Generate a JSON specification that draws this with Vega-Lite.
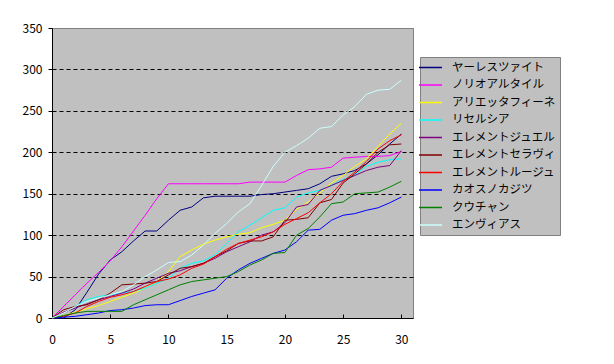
{
"$schema": "https://vega.github.io/schema/vega-lite/v6.json",
"width": 361, "height": 290,
"autosize": {"type": "none"},
"padding": {"left": 52, "top": 28, "right": 201, "bottom": 46},
"background": "white",
"config": {"view": {"fill": "#c0c0c0", "stroke": "#808080", "strokeWidth": 1}, "font": "Noto Sans CJK JP"},
"datasets": {"d": [
{"s":"ヤーレスツァイト","x":0,"y":0},{"s":"ヤーレスツァイト","x":1,"y":0},{"s":"ヤーレスツァイト","x":2,"y":10},{"s":"ヤーレスツァイト","x":3,"y":31},{"s":"ヤーレスツァイト","x":4,"y":53},{"s":"ヤーレスツァイト","x":5,"y":70},{"s":"ヤーレスツァイト","x":6,"y":80},{"s":"ヤーレスツァイト","x":7,"y":93},{"s":"ヤーレスツァイト","x":8,"y":105},{"s":"ヤーレスツァイト","x":9,"y":105},{"s":"ヤーレスツァイト","x":10,"y":118},{"s":"ヤーレスツァイト","x":11,"y":130},{"s":"ヤーレスツァイト","x":12,"y":134},{"s":"ヤーレスツァイト","x":13,"y":145},{"s":"ヤーレスツァイト","x":14,"y":147},{"s":"ヤーレスツァイト","x":15,"y":147},{"s":"ヤーレスツァイト","x":16,"y":147},{"s":"ヤーレスツァイト","x":17,"y":147},{"s":"ヤーレスツァイト","x":18,"y":149},{"s":"ヤーレスツァイト","x":19,"y":150},{"s":"ヤーレスツァイト","x":20,"y":152},{"s":"ヤーレスツァイト","x":21,"y":154},{"s":"ヤーレスツァイト","x":22,"y":156},{"s":"ヤーレスツァイト","x":23,"y":162},{"s":"ヤーレスツァイト","x":24,"y":171},{"s":"ヤーレスツァイト","x":25,"y":174},{"s":"ヤーレスツァイト","x":26,"y":178},{"s":"ヤーレスツァイト","x":27,"y":186},{"s":"ヤーレスツァイト","x":28,"y":197},{"s":"ヤーレスツァイト","x":29,"y":210},{"s":"ヤーレスツァイト","x":30,"y":222},
{"s":"ノリオアルタイル","x":0,"y":0},{"s":"ノリオアルタイル","x":1,"y":14},{"s":"ノリオアルタイル","x":2,"y":28},{"s":"ノリオアルタイル","x":3,"y":42},{"s":"ノリオアルタイル","x":4,"y":55},{"s":"ノリオアルタイル","x":5,"y":69},{"s":"ノリオアルタイル","x":6,"y":86},{"s":"ノリオアルタイル","x":7,"y":105},{"s":"ノリオアルタイル","x":8,"y":124},{"s":"ノリオアルタイル","x":9,"y":144},{"s":"ノリオアルタイル","x":10,"y":162},{"s":"ノリオアルタイル","x":11,"y":162},{"s":"ノリオアルタイル","x":12,"y":162},{"s":"ノリオアルタイル","x":13,"y":162},{"s":"ノリオアルタイル","x":14,"y":162},{"s":"ノリオアルタイル","x":15,"y":162},{"s":"ノリオアルタイル","x":16,"y":162},{"s":"ノリオアルタイル","x":17,"y":164},{"s":"ノリオアルタイル","x":18,"y":164},{"s":"ノリオアルタイル","x":19,"y":164},{"s":"ノリオアルタイル","x":20,"y":164},{"s":"ノリオアルタイル","x":21,"y":172},{"s":"ノリオアルタイル","x":22,"y":179},{"s":"ノリオアルタイル","x":23,"y":180},{"s":"ノリオアルタイル","x":24,"y":182},{"s":"ノリオアルタイル","x":25,"y":193},{"s":"ノリオアルタイル","x":26,"y":194},{"s":"ノリオアルタイル","x":27,"y":195},{"s":"ノリオアルタイル","x":28,"y":195},{"s":"ノリオアルタイル","x":29,"y":196},{"s":"ノリオアルタイル","x":30,"y":201},
{"s":"アリエッタフィーネ","x":0,"y":0},{"s":"アリエッタフィーネ","x":1,"y":3},{"s":"アリエッタフィーネ","x":2,"y":7},{"s":"アリエッタフィーネ","x":3,"y":11},{"s":"アリエッタフィーネ","x":4,"y":15},{"s":"アリエッタフィーネ","x":5,"y":20},{"s":"アリエッタフィーネ","x":6,"y":25},{"s":"アリエッタフィーネ","x":7,"y":30},{"s":"アリエッタフィーネ","x":8,"y":36},{"s":"アリエッタフィーネ","x":9,"y":44},{"s":"アリエッタフィーネ","x":10,"y":56},{"s":"アリエッタフィーネ","x":11,"y":74},{"s":"アリエッタフィーネ","x":12,"y":82},{"s":"アリエッタフィーネ","x":13,"y":89},{"s":"アリエッタフィーネ","x":14,"y":94},{"s":"アリエッタフィーネ","x":15,"y":98},{"s":"アリエッタフィーネ","x":16,"y":101},{"s":"アリエッタフィーネ","x":17,"y":103},{"s":"アリエッタフィーネ","x":18,"y":109},{"s":"アリエッタフィーネ","x":19,"y":113},{"s":"アリエッタフィーネ","x":20,"y":118},{"s":"アリエッタフィーネ","x":21,"y":131},{"s":"アリエッタフィーネ","x":22,"y":140},{"s":"アリエッタフィーネ","x":23,"y":151},{"s":"アリエッタフィーネ","x":24,"y":163},{"s":"アリエッタフィーネ","x":25,"y":172},{"s":"アリエッタフィーネ","x":26,"y":183},{"s":"アリエッタフィーネ","x":27,"y":192},{"s":"アリエッタフィーネ","x":28,"y":207},{"s":"アリエッタフィーネ","x":29,"y":222},{"s":"アリエッタフィーネ","x":30,"y":235},
{"s":"リセルシア","x":0,"y":0},{"s":"リセルシア","x":1,"y":6},{"s":"リセルシア","x":2,"y":14},{"s":"リセルシア","x":3,"y":22},{"s":"リセルシア","x":4,"y":26},{"s":"リセルシア","x":5,"y":28},{"s":"リセルシア","x":6,"y":30},{"s":"リセルシア","x":7,"y":32},{"s":"リセルシア","x":8,"y":36},{"s":"リセルシア","x":9,"y":42},{"s":"リセルシア","x":10,"y":48},{"s":"リセルシア","x":11,"y":60},{"s":"リセルシア","x":12,"y":66},{"s":"リセルシア","x":13,"y":69},{"s":"リセルシア","x":14,"y":76},{"s":"リセルシア","x":15,"y":90},{"s":"リセルシア","x":16,"y":104},{"s":"リセルシア","x":17,"y":112},{"s":"リセルシア","x":18,"y":121},{"s":"リセルシア","x":19,"y":130},{"s":"リセルシア","x":20,"y":133},{"s":"リセルシア","x":21,"y":146},{"s":"リセルシア","x":22,"y":151},{"s":"リセルシア","x":23,"y":154},{"s":"リセルシア","x":24,"y":160},{"s":"リセルシア","x":25,"y":167},{"s":"リセルシア","x":26,"y":173},{"s":"リセルシア","x":27,"y":183},{"s":"リセルシア","x":28,"y":188},{"s":"リセルシア","x":29,"y":191},{"s":"リセルシア","x":30,"y":192},
{"s":"エレメントジュエル","x":0,"y":0},{"s":"エレメントジュエル","x":1,"y":7},{"s":"エレメントジュエル","x":2,"y":12},{"s":"エレメントジュエル","x":3,"y":17},{"s":"エレメントジュエル","x":4,"y":22},{"s":"エレメントジュエル","x":5,"y":26},{"s":"エレメントジュエル","x":6,"y":30},{"s":"エレメントジュエル","x":7,"y":35},{"s":"エレメントジュエル","x":8,"y":42},{"s":"エレメントジュエル","x":9,"y":48},{"s":"エレメントジュエル","x":10,"y":54},{"s":"エレメントジュエル","x":11,"y":57},{"s":"エレメントジュエル","x":12,"y":62},{"s":"エレメントジュエル","x":13,"y":66},{"s":"エレメントジュエル","x":14,"y":72},{"s":"エレメントジュエル","x":15,"y":80},{"s":"エレメントジュエル","x":16,"y":86},{"s":"エレメントジュエル","x":17,"y":92},{"s":"エレメントジュエル","x":18,"y":100},{"s":"エレメントジュエル","x":19,"y":104},{"s":"エレメントジュエル","x":20,"y":115},{"s":"エレメントジュエル","x":21,"y":134},{"s":"エレメントジュエル","x":22,"y":137},{"s":"エレメントジュエル","x":23,"y":154},{"s":"エレメントジュエル","x":24,"y":160},{"s":"エレメントジュエル","x":25,"y":166},{"s":"エレメントジュエル","x":26,"y":172},{"s":"エレメントジュエル","x":27,"y":178},{"s":"エレメントジュエル","x":28,"y":182},{"s":"エレメントジュエル","x":29,"y":184},{"s":"エレメントジュエル","x":30,"y":202},
{"s":"エレメントセラヴィ","x":0,"y":0},{"s":"エレメントセラヴィ","x":1,"y":10},{"s":"エレメントセラヴィ","x":2,"y":14},{"s":"エレメントセラヴィ","x":3,"y":16},{"s":"エレメントセラヴィ","x":4,"y":22},{"s":"エレメントセラヴィ","x":5,"y":30},{"s":"エレメントセラヴィ","x":6,"y":40},{"s":"エレメントセラヴィ","x":7,"y":41},{"s":"エレメントセラヴィ","x":8,"y":42},{"s":"エレメントセラヴィ","x":9,"y":44},{"s":"エレメントセラヴィ","x":10,"y":52},{"s":"エレメントセラヴィ","x":11,"y":60},{"s":"エレメントセラヴィ","x":12,"y":62},{"s":"エレメントセラヴィ","x":13,"y":66},{"s":"エレメントセラヴィ","x":14,"y":74},{"s":"エレメントセラヴィ","x":15,"y":81},{"s":"エレメントセラヴィ","x":16,"y":90},{"s":"エレメントセラヴィ","x":17,"y":93},{"s":"エレメントセラヴィ","x":18,"y":93},{"s":"エレメントセラヴィ","x":19,"y":98},{"s":"エレメントセラヴィ","x":20,"y":118},{"s":"エレメントセラヴィ","x":21,"y":119},{"s":"エレメントセラヴィ","x":22,"y":121},{"s":"エレメントセラヴィ","x":23,"y":139},{"s":"エレメントセラヴィ","x":24,"y":143},{"s":"エレメントセラヴィ","x":25,"y":163},{"s":"エレメントセラヴィ","x":26,"y":174},{"s":"エレメントセラヴィ","x":27,"y":186},{"s":"エレメントセラヴィ","x":28,"y":200},{"s":"エレメントセラヴィ","x":29,"y":209},{"s":"エレメントセラヴィ","x":30,"y":210},
{"s":"エレメントルージュ","x":0,"y":0},{"s":"エレメントルージュ","x":1,"y":2},{"s":"エレメントルージュ","x":2,"y":6},{"s":"エレメントルージュ","x":3,"y":14},{"s":"エレメントルージュ","x":4,"y":20},{"s":"エレメントルージュ","x":5,"y":25},{"s":"エレメントルージュ","x":6,"y":28},{"s":"エレメントルージュ","x":7,"y":32},{"s":"エレメントルージュ","x":8,"y":38},{"s":"エレメントルージュ","x":9,"y":44},{"s":"エレメントルージュ","x":10,"y":47},{"s":"エレメントルージュ","x":11,"y":52},{"s":"エレメントルージュ","x":12,"y":60},{"s":"エレメントルージュ","x":13,"y":65},{"s":"エレメントルージュ","x":14,"y":74},{"s":"エレメントルージュ","x":15,"y":83},{"s":"エレメントルージュ","x":16,"y":90},{"s":"エレメントルージュ","x":17,"y":94},{"s":"エレメントルージュ","x":18,"y":98},{"s":"エレメントルージュ","x":19,"y":104},{"s":"エレメントルージュ","x":20,"y":113},{"s":"エレメントルージュ","x":21,"y":120},{"s":"エレメントルージュ","x":22,"y":127},{"s":"エレメントルージュ","x":23,"y":139},{"s":"エレメントルージュ","x":24,"y":150},{"s":"エレメントルージュ","x":25,"y":165},{"s":"エレメントルージュ","x":26,"y":176},{"s":"エレメントルージュ","x":27,"y":189},{"s":"エレメントルージュ","x":28,"y":204},{"s":"エレメントルージュ","x":29,"y":214},{"s":"エレメントルージュ","x":30,"y":221},
{"s":"カオスノカジツ","x":0,"y":0},{"s":"カオスノカジツ","x":1,"y":1},{"s":"カオスノカジツ","x":2,"y":2},{"s":"カオスノカジツ","x":3,"y":4},{"s":"カオスノカジツ","x":4,"y":6},{"s":"カオスノカジツ","x":5,"y":9},{"s":"カオスノカジツ","x":6,"y":10},{"s":"カオスノカジツ","x":7,"y":12},{"s":"カオスノカジツ","x":8,"y":15},{"s":"カオスノカジツ","x":9,"y":16},{"s":"カオスノカジツ","x":10,"y":16},{"s":"カオスノカジツ","x":11,"y":21},{"s":"カオスノカジツ","x":12,"y":26},{"s":"カオスノカジツ","x":13,"y":30},{"s":"カオスノカジツ","x":14,"y":34},{"s":"カオスノカジツ","x":15,"y":48},{"s":"カオスノカジツ","x":16,"y":58},{"s":"カオスノカジツ","x":17,"y":66},{"s":"カオスノカジツ","x":18,"y":72},{"s":"カオスノカジツ","x":19,"y":78},{"s":"カオスノカジツ","x":20,"y":82},{"s":"カオスノカジツ","x":21,"y":92},{"s":"カオスノカジツ","x":22,"y":106},{"s":"カオスノカジツ","x":23,"y":107},{"s":"カオスノカジツ","x":24,"y":118},{"s":"カオスノカジツ","x":25,"y":124},{"s":"カオスノカジツ","x":26,"y":126},{"s":"カオスノカジツ","x":27,"y":130},{"s":"カオスノカジツ","x":28,"y":133},{"s":"カオスノカジツ","x":29,"y":139},{"s":"カオスノカジツ","x":30,"y":146},
{"s":"クウチャン","x":0,"y":0},{"s":"クウチャン","x":1,"y":3},{"s":"クウチャン","x":2,"y":6},{"s":"クウチャン","x":3,"y":8},{"s":"クウチャン","x":4,"y":8},{"s":"クウチャン","x":5,"y":8},{"s":"クウチャン","x":6,"y":8},{"s":"クウチャン","x":7,"y":16},{"s":"クウチャン","x":8,"y":22},{"s":"クウチャン","x":9,"y":28},{"s":"クウチャン","x":10,"y":34},{"s":"クウチャン","x":11,"y":40},{"s":"クウチャン","x":12,"y":44},{"s":"クウチャン","x":13,"y":46},{"s":"クウチャン","x":14,"y":48},{"s":"クウチャン","x":15,"y":50},{"s":"クウチャン","x":16,"y":56},{"s":"クウチャン","x":17,"y":64},{"s":"クウチャン","x":18,"y":70},{"s":"クウチャン","x":19,"y":78},{"s":"クウチャン","x":20,"y":79},{"s":"クウチャン","x":21,"y":100},{"s":"クウチャン","x":22,"y":108},{"s":"クウチャン","x":23,"y":122},{"s":"クウチャン","x":24,"y":138},{"s":"クウチャン","x":25,"y":140},{"s":"クウチャン","x":26,"y":150},{"s":"クウチャン","x":27,"y":151},{"s":"クウチャン","x":28,"y":152},{"s":"クウチャン","x":29,"y":158},{"s":"クウチャン","x":30,"y":165},
{"s":"エンヴィアス","x":0,"y":0},{"s":"エンヴィアス","x":1,"y":6},{"s":"エンヴィアス","x":2,"y":14},{"s":"エンヴィアス","x":3,"y":20},{"s":"エンヴィアス","x":4,"y":24},{"s":"エンヴィアス","x":5,"y":28},{"s":"エンヴィアス","x":6,"y":32},{"s":"エンヴィアス","x":7,"y":40},{"s":"エンヴィアス","x":8,"y":50},{"s":"エンヴィアス","x":9,"y":58},{"s":"エンヴィアス","x":10,"y":67},{"s":"エンヴィアス","x":11,"y":68},{"s":"エンヴィアス","x":12,"y":76},{"s":"エンヴィアス","x":13,"y":88},{"s":"エンヴィアス","x":14,"y":102},{"s":"エンヴィアス","x":15,"y":114},{"s":"エンヴィアス","x":16,"y":128},{"s":"エンヴィアス","x":17,"y":138},{"s":"エンヴィアス","x":18,"y":160},{"s":"エンヴィアス","x":19,"y":183},{"s":"エンヴィアス","x":20,"y":200},{"s":"エンヴィアス","x":21,"y":208},{"s":"エンヴィアス","x":22,"y":217},{"s":"エンヴィアス","x":23,"y":229},{"s":"エンヴィアス","x":24,"y":231},{"s":"エンヴィアス","x":25,"y":245},{"s":"エンヴィアス","x":26,"y":255},{"s":"エンヴィアス","x":27,"y":270},{"s":"エンヴィアス","x":28,"y":275},{"s":"エンヴィアス","x":29,"y":276},{"s":"エンヴィアス","x":30,"y":287}
]},
"data": {"name": "d"},
"mark": {"type": "line", "strokeWidth": 1},
"encoding": {
  "x": {"field": "x", "type": "quantitative",
        "scale": {"domain": [0, 31], "nice": false, "zero": false},
        "axis": {"title": null, "grid": false, "values": [0,5,10,15,20,25,30],
                 "domainColor": "black", "tickColor": "black", "tickSize": -4,
                 "labelPadding": 20, "labelFontSize": 12, "labelColor": "black", "labelFlush": false}},
  "y": {"field": "y", "type": "quantitative",
        "scale": {"domain": [0, 350], "nice": false},
        "axis": {"title": null, "values": [0,50,100,150,200,250,300,350],
                 "domainColor": "black", "tickColor": "black", "tickSize": 4,
                 "labelPadding": 6, "labelFontSize": 12, "labelColor": "black",
                 "grid": true,
                 "gridColor": {"condition": {"test": "datum.value >= 350 || datum.value <= 0", "value": "#808080"}, "value": "black"},
                 "gridDash": {"condition": {"test": "datum.value >= 350 || datum.value <= 0", "value": []}, "value": [4, 3]},
                 "gridOpacity": 1}},
  "color": {"field": "s", "type": "nominal",
            "scale": {"domain": ["ヤーレスツァイト","ノリオアルタイル","アリエッタフィーネ","リセルシア","エレメントジュエル","エレメントセラヴィ","エレメントルージュ","カオスノカジツ","クウチャン","エンヴィアス"],
                      "range": ["#000080","#ff00ff","#ffff00","#00ffff","#800080","#800000","#ff0000","#0000ff","#008000","#ccffff"]},
            "legend": {"title": null, "orient": "none", "legendX": 368, "legendY": 29,
                       "fillColor": "#c0c0c0", "strokeColor": "#808080", "padding": 4,
                       "symbolType": "M-2,0H2", "symbolSize": 132, "symbolStrokeWidth": 1.5,
                       "labelFontSize": 11.5, "labelColor": "black", "rowPadding": 5.5, "labelOffset": 15}}
}
}
